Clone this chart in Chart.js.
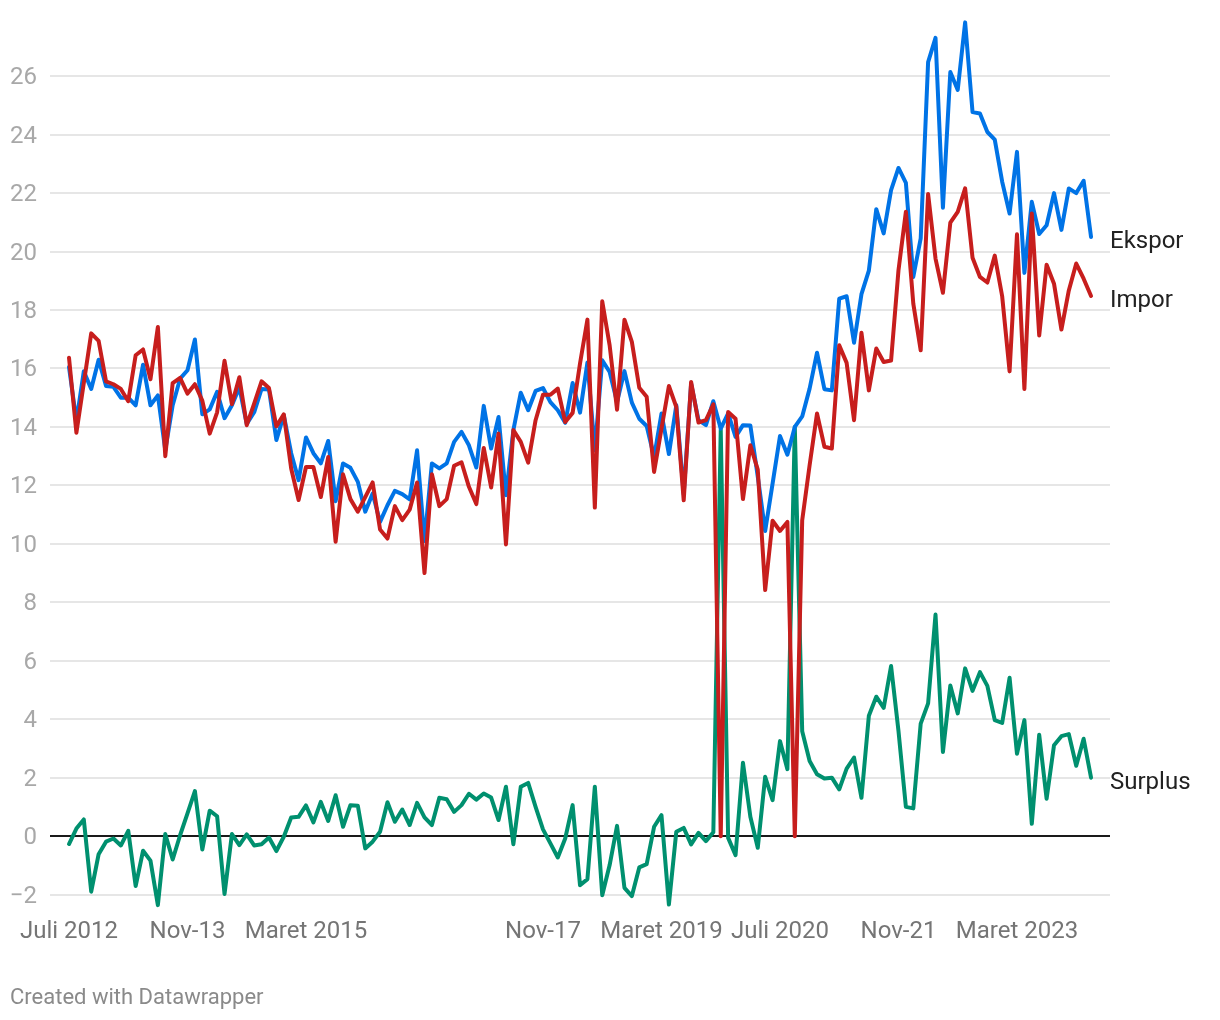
<!DOCTYPE html>
<html lang="id">
<head>
<meta charset="utf-8">
<title>Ekspor, Impor, Surplus</title>
<script src="https://cdn.jsdelivr.net/npm/chart.js@4"></script>
<style>
  body { margin: 0; background: #fff; }
  #wrap { position: relative; width: 1220px; height: 1020px; }
  #footer { position: absolute; left: 10px; top: 984px; font: 22px Roboto, sans-serif; color: #8a8a8a; }
</style>
</head>
<body>
<div id="wrap">
  <canvas id="tradeChart" width="1220" height="1020"></canvas>
  <div id="footer">Created with Datawrapper</div>
</div>
<script>
const months = [
  'Juli 2012','Agu-12','Sep-12','Okt-12','Nov-12','Des-12',
  'Jan-13','Feb-13','Mar-13','Apr-13','Mei-13','Jun-13','Jul-13','Agu-13','Sep-13','Okt-13','Nov-13','Des-13',
  'Jan-14','Feb-14','Mar-14','Apr-14','Mei-14','Jun-14','Jul-14','Agu-14','Sep-14','Okt-14','Nov-14','Des-14',
  'Jan-15','Feb-15','Maret 2015','Apr-15','Mei-15','Jun-15','Jul-15','Agu-15','Sep-15','Okt-15','Nov-15','Des-15',
  'Jan-16','Feb-16','Mar-16','Apr-16','Mei-16','Jun-16','Jul-16','Agu-16','Sep-16','Okt-16','Nov-16','Des-16',
  'Jan-17','Feb-17','Mar-17','Apr-17','Mei-17','Jun-17','Jul-17','Agu-17','Sep-17','Okt-17','Nov-17','Des-17',
  'Jan-18','Feb-18','Mar-18','Apr-18','Mei-18','Jun-18','Jul-18','Agu-18','Sep-18','Okt-18','Nov-18','Des-18',
  'Jan-19','Feb-19','Maret 2019','Apr-19','Mei-19','Jun-19','Jul-19','Agu-19','Sep-19','Okt-19','Nov-19','Des-19',
  'Jan-20','Feb-20','Mar-20','Apr-20','Mei-20','Jun-20','Juli 2020','Agu-20','Sep-20','Okt-20','Nov-20','Des-20',
  'Jan-21','Feb-21','Mar-21','Apr-21','Mei-21','Jun-21','Jul-21','Agu-21','Sep-21','Okt-21','Nov-21','Des-21',
  'Jan-22','Feb-22','Mar-22','Apr-22','Mei-22','Jun-22','Jul-22','Agu-22','Sep-22','Okt-22','Nov-22','Des-22',
  'Jan-23','Feb-23','Maret 2023','Apr-23','Mei-23','Jun-23','Jul-23','Agu-23','Sep-23','Okt-23','Nov-23','Des-23',
  'Jan-24'
];
const xTickLabels = ['Juli 2012','Nov-13','Maret 2015','Nov-17','Maret 2019','Juli 2020','Nov-21','Maret 2023'];
const yTicks = [-2,0,2,4,6,8,10,12,14,16,18,20,22,24,26];

const ekspor = [
  16.05,14.2,15.9,15.3,16.3,15.4,15.37,15.0,15.0,14.74,16.13,14.74,15.08,13.2,14.74,15.65,15.94,16.99,
  14.43,14.6,15.2,14.3,14.74,15.35,14.1,14.5,15.3,15.28,13.55,14.4,13.1,12.18,13.64,13.1,12.75,13.52,
  11.46,12.75,12.6,12.12,11.1,11.72,10.75,11.32,11.81,11.7,11.52,13.2,10.1,12.75,12.58,12.75,13.49,13.83,
  13.37,12.61,14.72,13.26,14.34,11.66,13.89,15.17,14.57,15.23,15.33,14.85,14.57,14.14,15.5,14.49,16.2,13.2,
  16.28,15.88,14.85,15.91,14.83,14.28,14.03,12.97,14.46,13.07,14.74,11.7,15.48,14.23,14.06,14.88,13.94,14.46,
  13.66,14.06,14.05,12.3,10.44,12.06,13.69,13.05,14.0,14.36,15.31,16.54,15.29,15.25,18.39,18.47,16.88,18.54,
  19.35,21.45,20.62,22.1,22.86,22.35,19.13,20.45,26.48,27.31,21.5,26.14,25.53,27.84,24.77,24.72,24.09,23.83,
  22.39,21.3,23.41,19.27,21.7,20.6,20.9,22.0,20.74,22.16,22.0,22.42,20.5
];
const impor = [
  16.37,13.8,15.5,17.2,16.94,15.56,15.46,15.3,14.88,16.45,16.65,15.63,17.42,13.0,15.5,15.68,15.14,15.46,
  14.9,13.77,14.5,16.26,14.78,15.7,14.06,14.8,15.56,15.33,14.02,14.43,12.58,11.5,12.63,12.63,11.6,12.97,
  10.07,12.38,11.53,11.1,11.6,12.1,10.49,10.18,11.29,10.81,11.17,12.1,9.0,12.38,11.29,11.53,12.67,12.79,
  11.95,11.36,13.28,11.93,13.77,9.98,13.89,13.49,12.78,14.23,15.1,15.1,15.31,14.17,14.48,16.17,17.67,11.24,
  18.3,16.79,14.59,17.67,16.91,15.34,15.03,12.46,13.94,15.4,14.68,11.49,15.54,14.15,14.23,14.77,0,14.51,
  14.28,11.53,13.37,12.54,8.42,10.79,10.44,10.75,0,10.81,12.69,14.46,13.32,13.26,16.79,16.19,14.23,17.22,
  15.25,16.68,16.22,16.27,19.36,21.36,18.22,16.62,21.97,19.76,18.59,20.99,21.36,22.16,19.79,19.13,18.94,19.86,
  18.47,15.9,20.59,15.3,21.3,17.13,19.55,18.9,17.33,18.67,19.59,19.07,18.48
];
const surplus = [
  -0.27,0.26,0.57,-1.9,-0.62,-0.19,-0.08,-0.32,0.18,-1.71,-0.5,-0.84,-2.36,0.07,-0.8,0.03,0.78,1.54,
  -0.46,0.87,0.68,-1.98,0.07,-0.31,0.06,-0.32,-0.28,-0.05,-0.51,-0.02,0.64,0.66,1.05,0.47,1.17,0.52,
  1.4,0.32,1.06,1.04,-0.42,-0.19,0.15,1.16,0.49,0.91,0.38,1.14,0.64,0.38,1.31,1.26,0.83,1.06,
  1.45,1.25,1.46,1.32,0.55,1.69,-0.28,1.69,1.82,1.0,0.23,-0.25,-0.73,-0.08,1.06,-1.68,-1.47,1.69,
  -2.02,-0.99,0.35,-1.77,-2.05,-1.07,-0.96,0.32,0.72,-2.34,0.15,0.28,-0.28,0.11,-0.17,0.13,13.9,-0.06,
  -0.65,2.51,0.66,-0.4,2.03,1.23,3.25,2.29,14.0,3.59,2.57,2.12,1.97,2.0,1.6,2.31,2.69,1.31,
  4.12,4.77,4.39,5.82,3.6,1.0,0.95,3.85,4.54,7.58,2.88,5.15,4.2,5.74,4.97,5.61,5.14,3.97,
  3.87,5.42,2.82,3.97,0.42,3.47,1.28,3.11,3.42,3.49,2.41,3.33,2.0
];

const points = arr => arr.map((v, i) => ({ x: i, y: v }));

function lineSet(label, data, color) {
  return {
    label,
    data: points(data),
    borderColor: color,
    borderWidth: 4,
    borderJoinStyle: 'round',
    borderCapStyle: 'round',
    pointRadius: 0,
    tension: 0,
    clip: false
  };
}

// series names sit right of the last point
const endLabels = {
  id: 'endLabels',
  afterDatasetsDraw(chart) {
    const ctx = chart.ctx;
    ctx.save();
    ctx.font = '24px Roboto, sans-serif';
    ctx.fillStyle = '#222';
    ctx.textBaseline = 'middle';
    chart.data.datasets.forEach((ds, i) => {
      const pts = chart.getDatasetMeta(i).data;
      const last = pts[pts.length - 1];
      ctx.fillText(ds.label, chart.chartArea.right, last.y + 5);
    });
    ctx.restore();
  }
};

new Chart(document.getElementById('tradeChart').getContext('2d'), {
  type: 'line',
  data: {
    datasets: [
      lineSet('Impor', impor, '#c71e1d'),
      lineSet('Ekspor', ekspor, '#0073e6'),
      lineSet('Surplus', surplus, '#00906f')
    ]
  },
  options: {
    responsive: false,
    animation: false,
    layout: { padding: { top: 17.7, right: 110 } },
    plugins: { legend: { display: false }, tooltip: { enabled: false } },
    scales: {
      x: {
        type: 'linear',
        min: -2.565,
        max: 140.56,
        afterFit(s) { s.height = 110.8; },
        afterBuildTicks(s) { s.ticks = xTickLabels.map(l => ({ value: months.indexOf(l) })); },
        grid: { display: false },
        border: { display: false },
        ticks: {
          autoSkip: false,
          maxRotation: 0,
          padding: 0.3,
          color: '#757575',
          font: { family: 'Roboto', size: 24 },
          callback: v => months[v]
        }
      },
      y: {
        min: -2.5,
        max: 28,
        // the top label is far below the axis end, so no label overflow padding
        afterFit(s) { s.width = 50; s.paddingTop = 0; s.paddingBottom = 0; },
        afterBuildTicks(s) { s.ticks = yTicks.map(v => ({ value: v })); },
        grid: {
          drawTicks: false,
          lineWidth: 2,
          color: c => c.tick && c.tick.value === 0 ? '#1a1a1a' : '#e6e6e6'
        },
        border: { display: false },
        ticks: {
          padding: 13,
          labelOffset: 2,
          color: '#a8a8a8',
          font: { family: 'Roboto', size: 24 },
          callback: v => String(v).replace('-', '\u2212')
        }
      }
    }
  },
  plugins: [endLabels]
});
</script>
</body>
</html>
